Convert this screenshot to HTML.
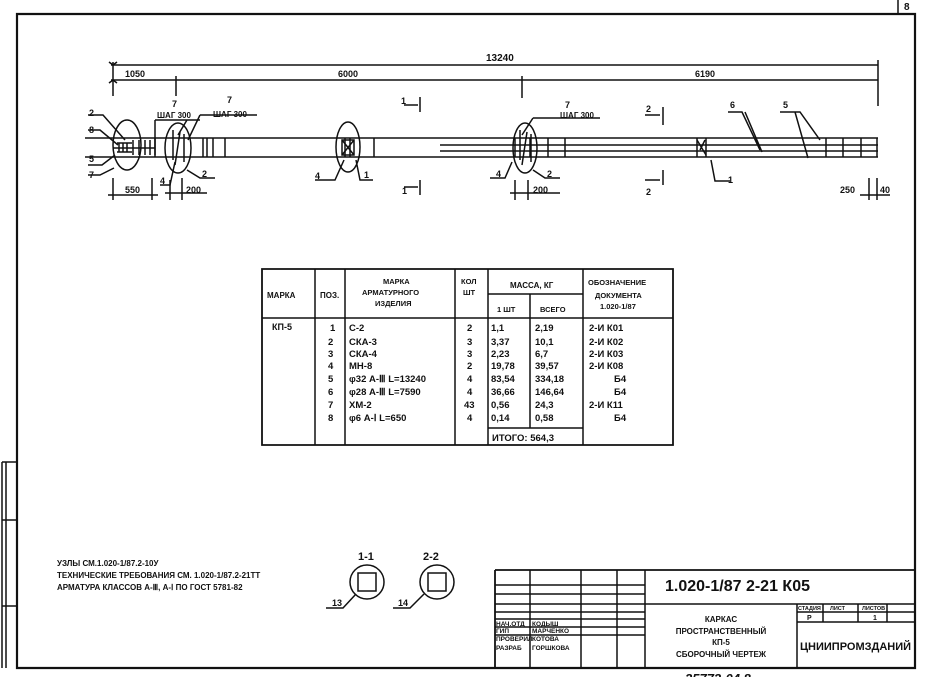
<!DOCTYPE html>
<html><head><meta charset="utf-8"><style>
html,body{margin:0;padding:0;background:#fff;}
svg{display:block}
text{font-family:"Liberation Sans",sans-serif;font-weight:bold;fill:#111}
</style></head><body>
<svg width="925" height="677" viewBox="0 0 925 677" xmlns="http://www.w3.org/2000/svg">
<g stroke="#111" fill="none" stroke-width="1.5">
<!-- frame -->
<path d="M17 14 H915 V668 H17 Z" stroke-width="2.2"/>
<path d="M898 0 V14" />
<!-- left strip -->
<path d="M2 462 H17 M2 520 H17 M2 606 H17 M2 462 V668 M6 462 V668"/>
<!-- dimension lines -->
<path d="M111 65 H878 M111 80 H878"/>
<path d="M113 62 V96 M176 76 V96 M522 76 V98 M878 60 V106"/>
<path d="M109 62 l4 3 l4 -3 M109 83 l4 -3 l4 3"/>
<!-- main bars -->
<path d="M85 138 H878 M85 157 H878"/>
<path d="M113 148 H155"/>
<path d="M440 145 H878 M440 151 H878" />
<!-- stirrups -->
<path d="M133 140 V155 M139 140 V155 M145 140 V155 M150 140 V155 M155 138 V157 M203 138 V157 M213 138 V157 M207 138 V157 M374 138 V157 M350 138 V157 M345 138 V157 M225 138 V157"/>
<path d="M117 143 H132 M117 152 H132 M119 143 V152 M123 143 V152 M127 143 V152"/>
<path d="M515 138 V157 M530 138 V157 M548 138 V157 M565 138 V157 M697 138 V157 M706 138 V157 M826 138 V157 M843 138 V157 M861 138 V157 M877 138 V157"/>
<path d="M697 140 L706 155 M700 150 L705 140"/>
<!-- ovals -->
<ellipse cx="127" cy="145" rx="14" ry="25"/>
<ellipse cx="178" cy="148" rx="13" ry="25"/>
<ellipse cx="348" cy="147" rx="12" ry="25"/>
<ellipse cx="525" cy="148" rx="12" ry="25"/>
<path d="M173 130 V160 M180 132 L175 165 M184 134 V162 M342 140 H354 V155 H342 Z M342 140 L354 155 M354 140 L342 155 M520 130 V160 M527 132 L522 165 M531 134 V162"/>
<!-- leaders -->
<path d="M88 115 H103 L125 140 M88 130 H100 L118 145 M88 165 H102 L115 155 M88 175 H100 L114 168"/>
<path d="M155 120 H200 M155 120 V155 M187 120 L178 135"/>
<path d="M200 115 H257 M200 115 L188 140"/>
<path d="M160 185 H170 L175 162 M187 170 L200 178 H215"/>
<path d="M533 118 H600 M533 118 L522 135 M490 178 H505 L512 162 M533 170 L545 178 H560"/>
<path d="M315 180 H335 L344 160 M356 160 L360 180 H373"/>
<path d="M711 160 L715 181 H730"/>
<path d="M728 112 H742 L760 150 M745 112 L762 152 M780 112 H800 L820 140 M795 112 L808 158"/>
<!-- small dims -->
<path d="M113 178 V200 M152 178 V200 M108 195 H158 M170 180 V200 M182 178 V200 M165 193 H207 M515 180 V200 M528 180 V200 M510 193 H560 M869 178 V200 M877 178 V200 M860 195 H890"/>
<!-- section marks -->
<path d="M420 97 V112 M404 105 H418 M420 180 V195 M404 187 H418 M663 107 V125 M645 115 H660 M663 170 V185 M645 180 H660"/>
<!-- table -->
<path d="M262 269 H673 V445 H262 Z" stroke-width="1.8"/>
<path d="M262 318 H673 M488 294 H583 M488 428 H583"/>
<path d="M315 269 V445 M345 269 V445 M455 269 V445 M488 269 V445 M530 294 V428 M583 269 V445"/>
<!-- sections -->
<circle cx="367" cy="582" r="17"/><rect x="358" y="573" width="18" height="18"/>
<circle cx="437" cy="582" r="17"/><rect x="428" y="573" width="18" height="18"/>
<path d="M326 608 H343 L356 594 M393 608 H410 L424 594"/>
<!-- title block -->
<path d="M495 570 H915 M495 570 V668" stroke-width="1.8"/>
<path d="M495 585 H645 M495 594 H645 M495 604 H915 M495 612 H645 M495 619 H645 M495 627 H645 M495 635 H645"/>
<path d="M530 570 V668 M581 570 V668 M617 570 V668 M645 570 V668 M797 604 V668"/>
<path d="M797 612 H915 M797 622 H915 M823 604 V622 M858 604 V622 M887 604 V622"/>
</g>
<g font-size="9">
<text x="486" y="61" font-size="10">13240</text>
<text x="125" y="77">1050</text>
<text x="338" y="77">6000</text>
<text x="695" y="77">6190</text>
<text x="89" y="116">2</text><text x="89" y="133">8</text><text x="89" y="162">5</text><text x="89" y="178">7</text>
<text x="172" y="107">7</text><text x="157" y="118" font-size="8">ШАГ 300</text>
<text x="227" y="103">7</text><text x="213" y="117" font-size="8">ШАГ 300</text>
<text x="565" y="108">7</text><text x="560" y="118" font-size="8">ШАГ 300</text>
<text x="160" y="184">4</text><text x="202" y="177">2</text>
<text x="315" y="179">4</text><text x="364" y="178">1</text>
<text x="496" y="177">4</text><text x="547" y="177">2</text>
<text x="125" y="193">550</text><text x="186" y="193">200</text><text x="533" y="193">200</text>
<text x="840" y="193">250</text><text x="880" y="193">40</text>
<text x="401" y="104">1</text><text x="402" y="194">1</text>
<text x="646" y="112">2</text><text x="646" y="195">2</text>
<text x="728" y="183">1</text><text x="730" y="108">6</text><text x="783" y="108">5</text>
<!-- table header -->
<text x="267" y="298" font-size="8">МАРКА</text>
<text x="320" y="298" font-size="8">ПОЗ.</text>
<text x="383" y="284" font-size="7.5">МАРКА</text>
<text x="362" y="295" font-size="7.5">АРМАТУРНОГО</text>
<text x="375" y="306" font-size="7.5">ИЗДЕЛИЯ</text>
<text x="461" y="284" font-size="7.5">КОЛ</text>
<text x="463" y="295" font-size="7.5">ШТ</text>
<text x="510" y="288" font-size="8">МАССА, КГ</text>
<text x="497" y="312" font-size="7.5">1 ШТ</text>
<text x="540" y="312" font-size="7.5">ВСЕГО</text>
<text x="588" y="285" font-size="7.5">ОБОЗНАЧЕНИЕ</text>
<text x="595" y="298" font-size="7.5">ДОКУМЕНТА</text>
<text x="600" y="309" font-size="7.5">1.020-1/87</text>
<!-- table body -->
<text x="272" y="330">КП-5</text>
<g font-size="9.5">
<text x="330" y="331">1</text><text x="328" y="345">2</text><text x="328" y="357">3</text><text x="328" y="369">4</text><text x="328" y="382">5</text><text x="328" y="395">6</text><text x="328" y="408">7</text><text x="328" y="421">8</text>
<text x="349" y="331">С-2</text><text x="349" y="345">СКА-3</text><text x="349" y="357">СКА-4</text><text x="349" y="369">МН-8</text><text x="349" y="382">φ32 А-Ⅲ L=13240</text><text x="349" y="395">φ28 А-Ⅲ L=7590</text><text x="349" y="408">ХМ-2</text><text x="349" y="421">φ6 А-Ⅰ L=650</text>
<text x="467" y="331">2</text><text x="467" y="345">3</text><text x="467" y="357">3</text><text x="467" y="369">2</text><text x="467" y="382">4</text><text x="467" y="395">4</text><text x="464" y="408">43</text><text x="467" y="421">4</text>
<text x="491" y="331">1,1</text><text x="491" y="345">3,37</text><text x="491" y="357">2,23</text><text x="491" y="369">19,78</text><text x="491" y="382">83,54</text><text x="491" y="395">36,66</text><text x="491" y="408">0,56</text><text x="491" y="421">0,14</text>
<text x="535" y="331">2,19</text><text x="535" y="345">10,1</text><text x="535" y="357">6,7</text><text x="535" y="369">39,57</text><text x="535" y="382">334,18</text><text x="535" y="395">146,64</text><text x="535" y="408">24,3</text><text x="535" y="421">0,58</text>
<text x="492" y="441">ИТОГО: 564,3</text>
<text x="589" y="331">2-И К01</text><text x="589" y="345">2-И К02</text><text x="589" y="357">2-И К03</text><text x="589" y="369">2-И К08</text><text x="614" y="382">Б4</text><text x="614" y="395">Б4</text><text x="589" y="408">2-И К11</text><text x="614" y="421">Б4</text>
</g>
<!-- notes -->
<g font-size="8">
<text x="57" y="566">УЗЛЫ СМ.1.020-1/87.2-10У</text>
<text x="57" y="578">ТЕХНИЧЕСКИЕ ТРЕБОВАНИЯ СМ. 1.020-1/87.2-21ТТ</text>
<text x="57" y="590">АРМАТУРА КЛАССОВ А-Ⅲ, А-Ⅰ ПО ГОСТ 5781-82</text>
</g>
<text x="358" y="560" font-size="11">1-1</text><text x="423" y="560" font-size="11">2-2</text>
<text x="332" y="606">13</text><text x="398" y="606">14</text>
<!-- title texts -->
<text x="665" y="591" font-size="16" font-weight="normal">1.020-1/87 2-21 К05</text>
<g font-size="6.5">
<text x="496" y="626">НАЧ.ОТД</text><text x="532" y="626">КОДЫШ</text>
<text x="496" y="633">ГИП</text><text x="532" y="633">МАРЧЕНКО</text>
<text x="496" y="641">ПРОВЕРИЛ</text><text x="532" y="641">КОТОВА</text>
<text x="496" y="650">РАЗРАБ</text><text x="532" y="650">ГОРШКОВА</text>
</g>
<g font-size="8" text-anchor="middle">
<text x="721" y="622">КАРКАС</text>
<text x="721" y="634">ПРОСТРАНСТВЕННЫЙ</text>
<text x="721" y="645">КП-5</text>
<text x="721" y="657">СБОРОЧНЫЙ ЧЕРТЕЖ</text>
</g>
<text x="798" y="610" font-size="5.5">СТАДИЯ</text><text x="830" y="610" font-size="5.5">ЛИСТ</text><text x="862" y="610" font-size="5.5">ЛИСТОВ</text>
<text x="807" y="620" font-size="7">Р</text><text x="873" y="620" font-size="7">1</text>
<text x="800" y="650" font-size="11" font-weight="normal">ЦНИИПРОМЗДАНИЙ</text>
<text x="904" y="10" font-size="10">8</text>
<text x="685" y="683" font-size="13" font-weight="normal" font-style="italic">25772-04    8</text>
</g>
</svg>
</body></html>
